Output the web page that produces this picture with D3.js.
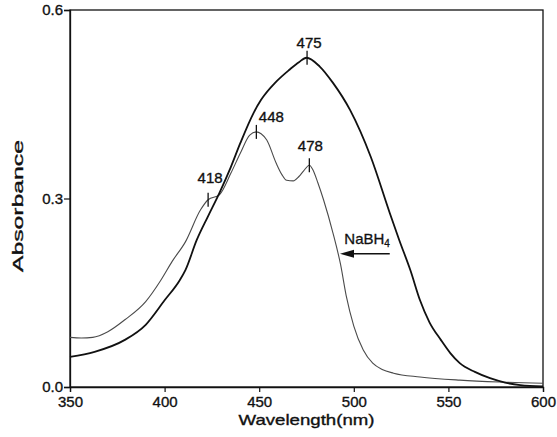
<!DOCTYPE html>
<html>
<head>
<meta charset="utf-8">
<script src="https://cdn.jsdelivr.net/npm/d3@7"></script>
<style>
  body { margin: 0; background: #fff; }
  svg { display: block; }
  text { font-family: "Liberation Sans", Arial, sans-serif; fill: #111; }
</style>
</head>
<body>
<svg id="chart" width="557" height="437"></svg>
<script>
// spectrum before reduction (thick line)
var originalNm  = [350, 363, 379, 390, 400, 408, 411, 417, 423, 429, 435, 440, 447, 451, 459, 466, 471, 475, 482, 489, 498, 509, 519, 524, 530, 535, 540, 546, 551, 556, 564, 572, 580, 588, 600];
var originalAbs = [0.048, 0.056, 0.075, 0.099, 0.138, 0.170, 0.186, 0.234, 0.272, 0.309, 0.350, 0.388, 0.436, 0.457, 0.486, 0.505, 0.517, 0.524, 0.510, 0.484, 0.441, 0.366, 0.277, 0.234, 0.185, 0.138, 0.103, 0.075, 0.054, 0.038, 0.024, 0.014, 0.007, 0.003, 0.001];

// spectrum after NaBH4 (thin line)
var reducedNm  = [350, 356, 362, 370, 379, 390, 398, 404, 411, 419, 423, 429, 435, 440, 445, 448.5, 451, 454, 459, 462, 464.5, 468, 471, 473.5, 476.5, 478.5, 481, 484, 489, 493, 496, 500, 505, 510, 515, 521, 535, 556, 577, 600];
var reducedAbs = [0.079, 0.078, 0.079, 0.088, 0.107, 0.136, 0.170, 0.200, 0.231, 0.282, 0.298, 0.306, 0.340, 0.372, 0.401, 0.406, 0.403, 0.393, 0.356, 0.338, 0.329, 0.328, 0.335, 0.344, 0.353, 0.345, 0.325, 0.298, 0.245, 0.195, 0.145, 0.097, 0.059, 0.038, 0.028, 0.022, 0.016, 0.011, 0.008, 0.006];

// marked peaks
var peakLabels = ['418', '448', '475', '478'];
var peakNm     = [423, 448.5, 475.3, 476.5];
var peakAbs    = [0.298, 0.406, 0.524, 0.353];

var xTicks = [350, 400, 450, 500, 550, 600];
var yTicks = [0.0, 0.3, 0.6];

var svg = d3.select('#chart'),
    margin = { top: 10, right: 14, bottom: 50, left: 70 },
    width = 557 - margin.left - margin.right,
    height = 437 - margin.top - margin.bottom;

var g = svg.append('g').attr('transform', 'translate(' + margin.left + ',' + margin.top + ')');

var x = d3.scaleLinear().domain([350, 600]).range([0, width]);
var y = d3.scaleLinear().domain([0, 0.6]).range([height, 0]);

// frame
g.append('rect')
    .attr('width', width).attr('height', height)
    .attr('fill', 'none').attr('stroke', '#111').attr('stroke-width', 1.3);

var xAxis = g.append('g')
    .attr('transform', 'translate(0,' + height + ')')
    .call(d3.axisBottom(x).tickValues(xTicks).tickFormat(d3.format('d')).tickSize(5).tickPadding(4));

var yAxis = g.append('g')
    .call(d3.axisLeft(y).tickValues(yTicks).tickFormat(d3.format('.1f')).tickSize(6).tickPadding(1));

[xAxis, yAxis].forEach(function(ax){
    ax.select('.domain').attr('stroke', '#111').attr('stroke-width', 1.3);
    ax.selectAll('.tick line').attr('stroke', '#111').attr('stroke-width', 1.2);
    ax.selectAll('.tick text')
        .attr('font-size', 15)
        .attr('font-family', '"Liberation Sans", Arial, sans-serif')
        .attr('fill', '#111').attr('stroke', '#111').attr('stroke-width', 0.35);
});

var line = d3.line()
    .x(function(d){ return x(d[0]); })
    .y(function(d){ return y(d[1]); })
    .curve(d3.curveMonotoneX);

g.append('path')
    .datum(d3.zip(reducedNm, reducedAbs))
    .attr('fill', 'none')
    .attr('stroke', '#4a4a4a')
    .attr('stroke-width', 1.1)
    .attr('d', line);

g.append('path')
    .datum(d3.zip(originalNm, originalAbs))
    .attr('fill', 'none')
    .attr('stroke', '#111')
    .attr('stroke-width', 1.8)
    .attr('d', line);

// peak marks, label offsets in px
var labelOffset = { '418': [2, -17], '448': [15, -10], '475': [2, -10], '478': [1, -14] };

var peaks = g.selectAll('.peak')
    .data(d3.range(peakLabels.length))
    .enter().append('g')
    .attr('class', 'peak')
    .attr('transform', function(i){ return 'translate(' + x(peakNm[i]) + ',' + y(peakAbs[i]) + ')'; });

peaks.append('line')
    .attr('y1', -7).attr('y2', 7)
    .attr('stroke', '#111').attr('stroke-width', 1.3);

peaks.append('text')
    .attr('x', function(i){ return labelOffset[peakLabels[i]][0]; })
    .attr('y', function(i){ return labelOffset[peakLabels[i]][1]; })
    .attr('text-anchor', 'middle')
    .attr('font-size', 15)
    .attr('stroke', '#111').attr('stroke-width', 0.35)
    .text(function(i){ return peakLabels[i]; });

// NaBH4 arrow
var arrowY = y(0.212),
    ax0 = x(519), ax1 = x(492.7);
g.append('line')
    .attr('x1', ax0).attr('x2', ax1 + 12)
    .attr('y1', arrowY).attr('y2', arrowY)
    .attr('stroke', '#111').attr('stroke-width', 1.6);
g.append('path')
    .attr('d', 'M' + ax1 + ',' + arrowY + 'L' + (ax1 + 14) + ',' + (arrowY - 4) + 'L' + (ax1 + 14) + ',' + (arrowY + 4) + 'Z')
    .attr('fill', '#111');

var nab = g.append('text')
    .attr('x', x(495)).attr('y', y(0.228))
    .attr('font-size', 15)
    .attr('stroke', '#111').attr('stroke-width', 0.3);
nab.append('tspan').text('NaBH');
nab.append('tspan').attr('font-size', 10).attr('dy', 3).text('4');

// axis titles
svg.append('text')
    .attr('x', margin.left + width / 2).attr('y', 425)
    .attr('text-anchor', 'middle')
    .attr('font-size', 15)
    .attr('textLength', 136).attr('lengthAdjust', 'spacingAndGlyphs')
    .attr('stroke', '#111').attr('stroke-width', 0.35)
    .text('Wavelength(nm)');

svg.append('text')
    .attr('transform', 'translate(23,' + 206 + ') rotate(-90)')
    .attr('text-anchor', 'middle')
    .attr('font-size', 15)
    .attr('textLength', 132).attr('lengthAdjust', 'spacingAndGlyphs')
    .attr('stroke', '#111').attr('stroke-width', 0.35)
    .text('Absorbance');
</script>
</body>
</html>
